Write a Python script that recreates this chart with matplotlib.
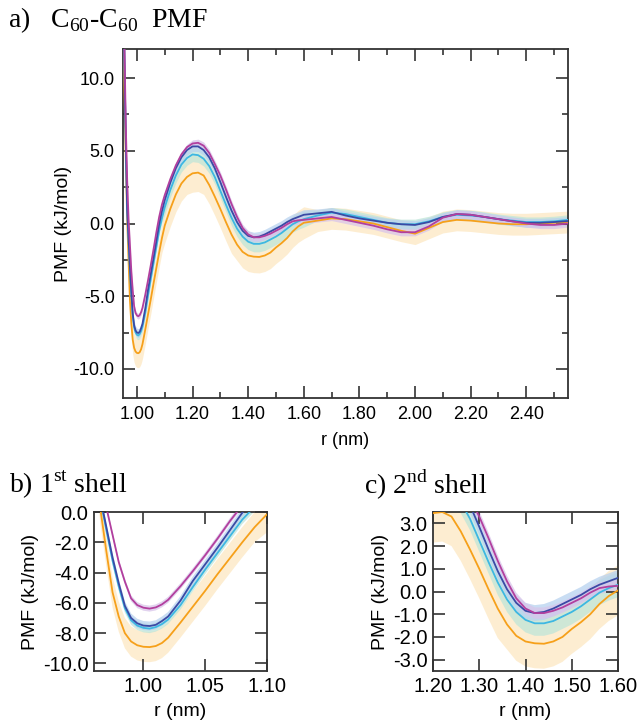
import numpy as np
import matplotlib
matplotlib.use("Agg")
import matplotlib.pyplot as plt
from matplotlib.ticker import MultipleLocator, FormatStrFormatter, FixedLocator

plt.rcParams['font.family'] = ['Liberation Sans', 'DejaVu Sans']
plt.rcParams['mathtext.fontset'] = 'custom'
plt.rcParams['mathtext.rm'] = 'Liberation Serif'

# ---------------- data ----------------
r_nm = [0.950, 0.955, 0.960, 0.965, 0.970, 0.975, 0.980, 0.985, 0.990, 0.995,
        1.000, 1.005, 1.010, 1.015, 1.020, 1.030, 1.040, 1.050, 1.060, 1.070,
        1.080, 1.090, 1.100, 1.120, 1.140, 1.160, 1.180, 1.200, 1.220, 1.240,
        1.260, 1.280, 1.300, 1.320, 1.340, 1.360, 1.380, 1.400, 1.420, 1.440,
        1.460, 1.480, 1.500, 1.520, 1.540, 1.560, 1.580, 1.600, 1.650, 1.700,
        1.750, 1.800, 1.850, 1.900, 1.950, 2.000, 2.050, 2.100, 2.150, 2.200,
        2.250, 2.300, 2.350, 2.400, 2.450, 2.500, 2.550]

pmf_magenta = [19.0, 12.5, 6.8, 3.0, 0.3, -1.5, -3.3, -4.6, -5.7, -6.15,
               -6.32, -6.38, -6.3, -6.1, -5.8, -4.9, -3.9, -2.85, -1.75, -0.6,
               0.45, 1.3, 1.95, 3.05, 4.0, 4.75, 5.25, 5.5, 5.55, 5.35,
               4.85, 4.1, 3.3, 2.35, 1.35, 0.45, -0.3, -0.75, -0.95, -0.95,
               -0.85, -0.7, -0.5, -0.3, -0.05, 0.15, 0.22, 0.25, 0.35, 0.45,
               0.25, 0.05, -0.15, -0.4, -0.6, -0.6, -0.2, 0.4, 0.65, 0.6,
               0.45, 0.3, 0.15, 0.0, -0.1, -0.1, 0.0]

pmf_blue = [18.0, 11.5, 5.8, 1.0, -1.0, -3.0, -4.7, -6.2, -7.0, -7.35,
            -7.5, -7.53, -7.45, -7.2, -6.9, -5.85, -4.55, -3.45, -2.35, -1.2,
            -0.05, 0.85, 1.6, 2.8, 3.8, 4.55, 5.05, 5.3, 5.3, 5.05,
            4.55, 3.8, 2.85, 1.85, 0.9, 0.1, -0.5, -0.85, -0.95, -0.9,
            -0.75, -0.55, -0.35, -0.15, 0.1, 0.3, 0.45, 0.6, 0.7, 0.8,
            0.55, 0.35, 0.2, 0.05, -0.05, -0.1, 0.1, 0.45, 0.65, 0.6,
            0.45, 0.3, 0.15, 0.05, 0.05, 0.1, 0.17]

pmf_cyan = [18.0, 11.3, 5.5, 0.9, -1.2, -3.2, -4.9, -6.35, -7.15, -7.5,
            -7.65, -7.7, -7.6, -7.4, -7.1, -6.15, -4.95, -3.8, -2.7, -1.6,
            -0.5, 0.35, 1.1, 2.3, 3.3, 4.05, 4.5, 4.75, 4.7, 4.45,
            3.95, 3.2, 2.25, 1.3, 0.4, -0.35, -0.9, -1.25, -1.4, -1.4,
            -1.3, -1.1, -0.9, -0.65, -0.35, -0.05, 0.15, 0.3, 0.55, 0.75,
            0.65, 0.45, 0.25, 0.05, -0.05, -0.05, 0.15, 0.45, 0.6, 0.55,
            0.45, 0.3, 0.2, 0.1, 0.1, 0.15, 0.25]

pmf_orange = [16.0, 9.5, 4.5, 0.3, -2.6, -5.3, -6.9, -8.0, -8.55, -8.8,
              -8.9, -8.92, -8.85, -8.65, -8.3, -7.3, -6.25, -5.2, -4.1, -3.05,
              -2.0, -1.0, -0.15, 1.0, 2.0, 2.75, 3.2, 3.45, 3.5, 3.3,
              2.65, 1.85, 1.0, 0.1, -0.75, -1.45, -1.95, -2.2, -2.28, -2.3,
              -2.2, -2.0, -1.65, -1.35, -1.0, -0.55, -0.2, 0.05, 0.2, 0.35,
              0.3, 0.15, 0.0, -0.25, -0.5, -0.7, -0.3, 0.1, 0.25, 0.2,
              0.1, 0.0, -0.05, -0.05, 0.0, 0.05, 0.1]

# error half-widths (kJ/mol)
err_magenta = [0.2] * 27 + [0.25] * 4 + [0.25] * 36
err_blue = ([0.3] * 22 + [0.35] * 12 + [0.35] * 14 + [0.3] * 19)
err_cyan = ([0.3] * 22 + [0.5] * 12 + [0.55] * 14 + [0.35] * 19)
err_orange = ([1.0] * 22 + [1.2] * 5 + [1.3] * 8 + [1.1] * 13 + [0.75] * 19)

series_names = ["magenta", "blue", "cyan", "orange"]

# ---------------- style ----------------
line_colors = {"magenta": "#b23f9e", "blue": "#3a4aa5",
               "cyan": "#3db7e2", "orange": "#f6a01a"}
band_colors = {"magenta": "#d9c5ea", "blue": "#b8d2ef",
               "cyan": "#bfe5d9", "orange": "#fde8c2"}

data = {"magenta": (pmf_magenta, err_magenta),
        "blue": (pmf_blue, err_blue),
        "cyan": (pmf_cyan, err_cyan),
        "orange": (pmf_orange, err_orange)}

W, H = 640, 721
fig = plt.figure(figsize=(W / 100, H / 100), dpi=100)


def ax_rect(l, t, rgt, b):
    return [l / W, 1 - b / H, (rgt - l) / W, (b - t) / H]


def draw(ax):
    r = np.array(r_nm)
    for name in ["orange", "cyan", "blue", "magenta"]:
        v, e = data[name]
        v = np.array(v); e = np.array(e)
        ax.fill_between(r, v - e, v + e, color=band_colors[name],
                        alpha=0.75, lw=0, zorder=1)
    for name in ["orange", "cyan", "blue", "magenta"]:
        v, _ = data[name]
        ax.plot(r, v, color=line_colors[name], lw=1.3, zorder=3)


def style(ax, fs, maj=8.5, mnr=4.3, pad=5):
    for s in ax.spines.values():
        s.set_linewidth(1.3)
        s.set_color("#333333")
    ax.tick_params(which="both", direction="in", top=True, right=True,
                   width=1.2, color="#333333", labelsize=fs, pad=pad)
    ax.tick_params(which="major", length=maj)
    ax.tick_params(which="minor", length=mnr)


# ---- panel a ----
axa = fig.add_axes(ax_rect(123, 49, 568, 398))
draw(axa)
axa.set_xlim(0.95, 2.55)
axa.set_ylim(-12, 12)
axa.xaxis.set_major_locator(FixedLocator([1.0, 1.2, 1.4, 1.6, 1.8, 2.0, 2.2, 2.4]))
axa.xaxis.set_minor_locator(FixedLocator([1.1, 1.3, 1.5, 1.7, 1.9, 2.1, 2.3, 2.5]))
axa.yaxis.set_major_locator(MultipleLocator(5))
axa.yaxis.set_minor_locator(MultipleLocator(2.5))
axa.xaxis.set_major_formatter(FormatStrFormatter("%.2f"))
axa.yaxis.set_major_formatter(FormatStrFormatter("%.1f"))
style(axa, 13, pad=6)
axa.set_xlabel("r (nm)", fontsize=13, labelpad=6)
axa.set_ylabel("PMF (kJ/mol)", fontsize=14, labelpad=1)

# ---- panel b ----
axb = fig.add_axes(ax_rect(94, 512, 267, 671))
draw(axb)
axb.set_xlim(0.96, 1.10)
axb.set_ylim(-10.5, 0.0)
axb.xaxis.set_major_locator(FixedLocator([1.00, 1.05, 1.10]))
axb.yaxis.set_major_locator(MultipleLocator(2))
axb.xaxis.set_major_formatter(FormatStrFormatter("%.2f"))
axb.yaxis.set_major_formatter(FormatStrFormatter("%.1f"))
style(axb, 14.5, pad=4)
axb.set_xlabel("r (nm)", fontsize=14, labelpad=5)
axb.set_ylabel("PMF (kJ/mol)", fontsize=14, labelpad=3)

# ---- panel c ----
axc = fig.add_axes(ax_rect(433, 512, 618, 671))
draw(axc)
axc.set_xlim(1.20, 1.60)
axc.set_ylim(-3.5, 3.5)
axc.xaxis.set_major_locator(MultipleLocator(0.1))
axc.yaxis.set_major_locator(MultipleLocator(1))
axc.xaxis.set_major_formatter(FormatStrFormatter("%.2f"))
axc.yaxis.set_major_formatter(FormatStrFormatter("%.1f"))
style(axc, 14.5, pad=4)
axc.set_xlabel("r (nm)", fontsize=14, labelpad=5)
axc.set_ylabel("PMF (kJ/mol)", fontsize=14, labelpad=3)

# ---- panel titles ----
serif = "Liberation Serif"
fig.text(8 / W, 1 - 20 / H, r"a)   C$_{\mathrm{60}}$-C$_{\mathrm{60}}$  PMF",
         family=serif, fontsize=20, ha="left", va="center")
fig.text(9 / W, 1 - 485 / H, r"b) 1$^{\mathrm{st}}$ shell",
         family=serif, fontsize=20, ha="left", va="center")
fig.text(364 / W, 1 - 485 / H, r"c) 2$^{\mathrm{nd}}$ shell",
         family=serif, fontsize=20, ha="left", va="center")

fig.savefig("out.png", dpi=100)
